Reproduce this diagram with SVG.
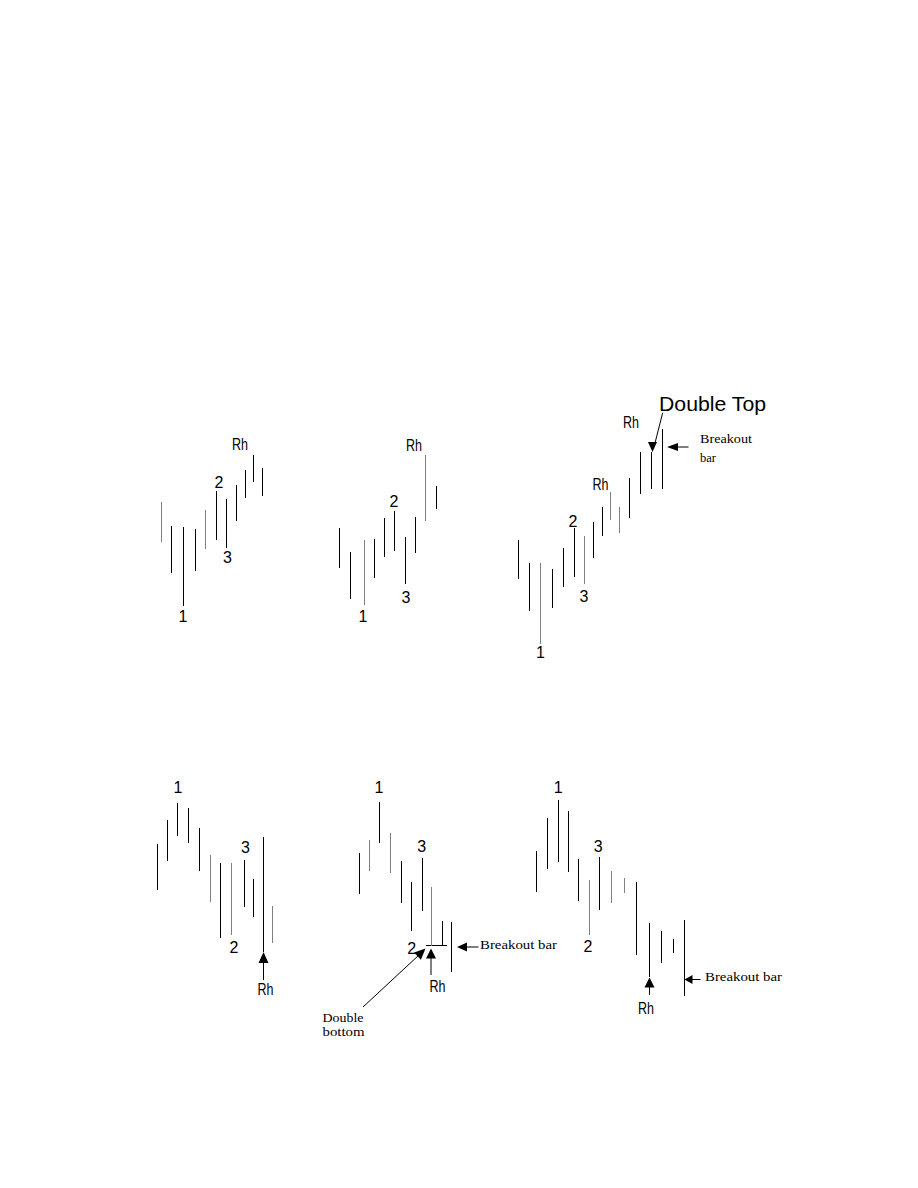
<svg xmlns="http://www.w3.org/2000/svg" width="918" height="1188" viewBox="0 0 918 1188">
<style>
.b{stroke:#000;stroke-width:1;fill:none}
.g{stroke:#808080;stroke-width:1;fill:none}
.lbl{font-family:"Liberation Sans",Arial,sans-serif;font-size:16px;fill:#000;text-anchor:middle}
.ser{font-family:"Liberation Serif","Times New Roman",serif;font-size:12.5px;fill:#000}
.ah{fill:#000;stroke:none}
</style>
<rect width="918" height="1188" fill="#fff"/>
<g id="panel1">
<path class="b" d="M171.5 526V573M183.5 527V606M195.5 529V571M216.5 491V540M226.5 499V548M236.5 485V521M245.5 470V498M253.5 455V482M262.5 468V496"/>
<path class="g" d="M161.5 502V542M205.5 510V549"/>
<text class="lbl" x="240" y="450" textLength="16" lengthAdjust="spacingAndGlyphs">Rh</text>
<text class="lbl" x="219" y="488">2</text>
<text class="lbl" x="227.5" y="563">3</text>
<text class="lbl" x="183" y="622">1</text>
</g>
<g id="panel2">
<path class="b" d="M339.5 528V568M350.5 552V599M374.5 539V578M384.5 518V557M394.5 511V551M405.5 537V584M415.5 517V553M436.5 486V509"/>
<path class="g" d="M364.5 540V605M425.5 455V521"/>
<text class="lbl" x="414" y="451" textLength="16" lengthAdjust="spacingAndGlyphs">Rh</text>
<text class="lbl" x="394" y="507">2</text>
<text class="lbl" x="406" y="603">3</text>
<text class="lbl" x="363" y="622">1</text>
</g>
<g id="panel3">
<path class="b" d="M518.5 540V579M529.5 563V611M552.5 569V608M563.5 548V587M574.5 528V577M593.5 522V558M602.5 507V536M629.5 478V518M640.5 452V494M651.5 452V489M662.5 429V489"/>
<path class="g" d="M540.5 563V644M584.5 536V584M610.5 492V520M619.5 507V533"/>
<text class="lbl" x="631" y="428" textLength="16" lengthAdjust="spacingAndGlyphs">Rh</text>
<text class="lbl" x="600.5" y="490" textLength="16" lengthAdjust="spacingAndGlyphs">Rh</text>
<text class="lbl" x="573" y="527">2</text>
<text class="lbl" x="584" y="602">3</text>
<text class="lbl" x="540.5" y="658">1</text>
<text x="659" y="411" font-family="Liberation Sans,Arial,sans-serif" font-size="20" textLength="107" lengthAdjust="spacingAndGlyphs">Double Top</text>
<text class="ser" x="700" y="442.5" textLength="52" lengthAdjust="spacingAndGlyphs">Breakout</text>
<text class="ser" x="700" y="462">bar</text>
</g>
<g id="panel4">
<path class="b" d="M157.5 844V890M167.5 820V861M177.5 803V836M188.5 808V843M199.5 828V871M220.5 863V938M244.5 860V907M253.5 879V917M263.5 837V952"/>
<path class="g" d="M210.5 855V902M231.5 863V935M272.5 906V943"/>
<text class="lbl" x="178" y="793">1</text>
<text class="lbl" x="245.5" y="853">3</text>
<text class="lbl" x="234" y="953">2</text>
<text class="lbl" x="265.5" y="995" textLength="16" lengthAdjust="spacingAndGlyphs">Rh</text>
</g>
<g id="panel5">
<path class="b" d="M359.5 853V894M379.5 802V843M401.5 861V903M411.5 882V931M422.5 858V911M442.5 921V946M451.5 922V972M426 945.5H447"/>
<path class="g" d="M369.5 840V871M390.5 833V873M431.5 887V946"/>
<text class="lbl" x="379" y="793">1</text>
<text class="lbl" x="421.7" y="852">3</text>
<text class="lbl" x="411.7" y="954">2</text>
<text class="lbl" x="437.5" y="992" textLength="16" lengthAdjust="spacingAndGlyphs">Rh</text>
<text class="ser" x="480" y="948.5" textLength="77" lengthAdjust="spacingAndGlyphs">Breakout bar</text>
<text class="ser" x="322.5" y="1022" textLength="41" lengthAdjust="spacingAndGlyphs">Double</text>
<text class="ser" x="322.5" y="1036" textLength="42" lengthAdjust="spacingAndGlyphs">bottom</text>
</g>
<g id="panel6">
<path class="b" d="M536.5 851V892M547.5 818V869M558.5 800V862M568.5 811V872M578.5 859V901M599.5 857V910M636.5 882V955M649.5 923V977M661.5 931V963M673.5 939V953M684.5 920V996"/>
<path class="g" d="M589.5 880V935M611.5 871V903M624.5 878V893"/>
<text class="lbl" x="558.3" y="793">1</text>
<text class="lbl" x="598.3" y="852">3</text>
<text class="lbl" x="588" y="952">2</text>
<text class="lbl" x="646" y="1014" textLength="16" lengthAdjust="spacingAndGlyphs">Rh</text>
<text class="ser" x="705" y="981" textLength="77" lengthAdjust="spacingAndGlyphs">Breakout bar</text>
</g>
<g id="connectors">
<path class="b" d="M662.7 412.7L655 443"/>
<polygon class="ah" points="648,442 657,442 652.5,452"/>
<path class="b" d="M678 447H688.5"/>
<polygon class="ah" points="667,447 678,443 678,451"/>
<path class="b" d="M263.5 963V980"/>
<polygon class="ah" points="263.5,952 258.5,963 268.5,963"/>
<path class="b" d="M363 1007L419 955"/>
<polygon class="ah" points="425.5,948.5 420.9,959.7 414.1,952.4"/>
<path class="b" d="M431 958V975"/>
<polygon class="ah" points="431,948.5 426,958.5 436,958.5"/>
<path class="b" d="M467 947H478.5"/>
<polygon class="ah" points="457,947 467,942.5 467,951.5"/>
<path class="b" d="M649.5 987V995"/>
<polygon class="ah" points="649.5,977.5 644.5,987.5 654.5,987.5"/>
<path class="b" d="M692 979.5H700.5"/>
<polygon class="ah" points="684.5,979.5 692.5,975 692.5,984"/>
</g>
</svg>
